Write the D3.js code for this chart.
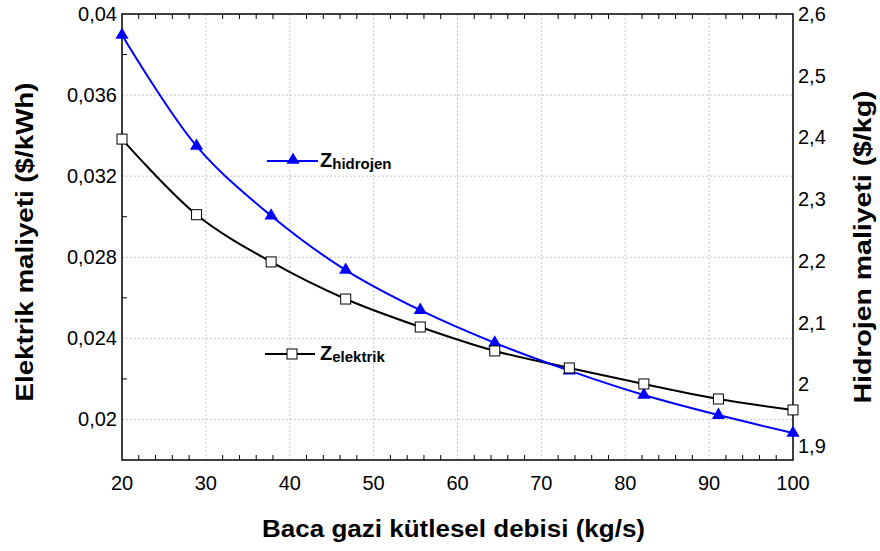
<!DOCTYPE html>
<html><head><meta charset="utf-8">
<script src="https://cdn.jsdelivr.net/npm/d3@7"></script>
<style>body{margin:0;background:#fff;} text{font-family:Arial,"Liberation Sans",sans-serif;}</style>
</head><body>
<svg id="c" width="880" height="551"></svg>
<script>
const xVals = [20, 28.89, 37.78, 46.67, 55.56, 64.44, 73.33, 82.22, 91.11, 100];
const elektrik = [0.03383, 0.0301, 0.02777, 0.02594, 0.02456, 0.02338, 0.02254, 0.02175, 0.02101, 0.02047];
const hidrojen = [2.566, 2.386, 2.273, 2.185, 2.120, 2.067, 2.022, 1.9825, 1.950, 1.921];
const xTicks = [20, 30, 40, 50, 60, 70, 80, 90, 100];
const leftTicks = [0.02, 0.024, 0.028, 0.032, 0.036, 0.04];
const leftTickLabels = ["0,02", "0,024", "0,028", "0,032", "0,036", "0,04"];
const rightTicks = [1.9, 2.0, 2.1, 2.2, 2.3, 2.4, 2.5, 2.6];
const rightTickLabels = ["1,9", "2", "2,1", "2,2", "2,3", "2,4", "2,5", "2,6"];

const L = 122, R = 793, T = 14, B = 460;
const svg = d3.select("#c");
const x = d3.scaleLinear().domain([20, 100]).range([L, R]);
const yL = d3.scaleLinear().domain([0.018, 0.04]).range([B, T]);
const yR = d3.scaleLinear().domain([1.8772, 2.6]).range([B, T]);

// grid
const g = svg.append("g");
xTicks.filter(v => v > 20 && v < 100).forEach(v => {
  g.append("line").attr("x1", x(v)).attr("x2", x(v)).attr("y1", T).attr("y2", B)
   .attr("stroke", "#c8c8c8").attr("stroke-width", 1).attr("stroke-dasharray", "2,2");
});
leftTicks.filter(v => v < 0.04).forEach(v => {
  g.append("line").attr("x1", L).attr("x2", R).attr("y1", yL(v)).attr("y2", yL(v))
   .attr("stroke", "#c8c8c8").attr("stroke-width", 1).attr("stroke-dasharray", "2,2");
});

// minor ticks
const minorX = d3.range(22, 100, 2).filter(v => v % 10 !== 0);
minorX.forEach(v => {
  g.append("line").attr("x1", x(v)).attr("x2", x(v)).attr("y1", B).attr("y2", B - 5).attr("stroke", "#000");
  g.append("line").attr("x1", x(v)).attr("x2", x(v)).attr("y1", T).attr("y2", T + 5).attr("stroke", "#000");
});
[0.022, 0.026, 0.030, 0.034, 0.038].forEach(v => {
  g.append("line").attr("x1", L).attr("x2", L + 5).attr("y1", yL(v)).attr("y2", yL(v)).attr("stroke", "#000");
});

// frame
svg.append("rect").attr("x", L).attr("y", T).attr("width", R - L).attr("height", B - T)
  .attr("fill", "none").attr("stroke", "#000").attr("stroke-width", 1.5);

// tick labels
svg.append("g").selectAll("text").data(xTicks).join("text")
  .attr("x", d => x(d)).attr("y", B + 30).attr("text-anchor", "middle")
  .attr("font-size", 20).text(d => d);
svg.append("g").selectAll("text").data(leftTicks).join("text")
  .attr("x", L - 5).attr("y", d => yL(d)).attr("dy", "0.35em").attr("text-anchor", "end")
  .attr("font-size", 20).text((d, i) => leftTickLabels[i]);
svg.append("g").selectAll("text").data(rightTicks).join("text")
  .attr("x", R + 5).attr("y", d => yR(d)).attr("dy", "0.35em").attr("text-anchor", "start")
  .attr("font-size", 20).text((d, i) => rightTickLabels[i]);

// axis titles
svg.append("text").attr("x", 453.5).attr("y", 537).attr("text-anchor", "middle")
  .attr("font-size", 23).attr("font-weight", "bold")
  .attr("textLength", 383).attr("lengthAdjust", "spacingAndGlyphs")
  .text("Baca gazi kütlesel debisi (kg/s)");
svg.append("text").attr("transform", "translate(33,242) rotate(-90)").attr("text-anchor", "middle")
  .attr("font-size", 24).attr("font-weight", "bold")
  .attr("textLength", 319).attr("lengthAdjust", "spacingAndGlyphs")
  .text("Elektrik maliyeti ($/kWh)");
svg.append("text").attr("transform", "translate(871,247) rotate(-90)").attr("text-anchor", "middle")
  .attr("font-size", 24).attr("font-weight", "bold")
  .attr("textLength", 313).attr("lengthAdjust", "spacingAndGlyphs")
  .text("Hidrojen maliyeti ($/kg)");

// lines
const ptsE = xVals.map((v, i) => [v, elektrik[i]]);
const ptsH = xVals.map((v, i) => [v, hidrojen[i]]);
const lineE = d3.line().x(d => x(d[0])).y(d => yL(d[1])).curve(d3.curveCatmullRom);
const lineH = d3.line().x(d => x(d[0])).y(d => yR(d[1])).curve(d3.curveCatmullRom);
svg.append("path").attr("d", lineE(ptsE)).attr("fill", "none").attr("stroke", "#000").attr("stroke-width", 2);
svg.append("path").attr("d", lineH(ptsH)).attr("fill", "none").attr("stroke", "#0000ff").attr("stroke-width", 2);

const tri = d3.symbol().type(d3.symbolTriangle).size(75);
svg.append("g").selectAll("path").data(ptsH).join("path")
  .attr("transform", d => `translate(${x(d[0])},${yR(d[1])})`).attr("d", tri).attr("fill", "#0000ff");
svg.append("g").selectAll("rect").data(ptsE).join("rect")
  .attr("x", d => x(d[0]) - 5).attr("y", d => yL(d[1]) - 5).attr("width", 10).attr("height", 10)
  .attr("fill", "#fff").attr("stroke", "#000").attr("stroke-width", 1);

// legends
const lg1 = svg.append("g");
lg1.append("line").attr("x1", 267).attr("x2", 318).attr("y1", 161).attr("y2", 161).attr("stroke", "#0000ff").attr("stroke-width", 2);
lg1.append("path").attr("transform", "translate(293,160)").attr("d", tri).attr("fill", "#0000ff");
const t1 = lg1.append("text").attr("x", 320).attr("y", 167).attr("font-weight", "bold");
t1.append("tspan").attr("font-size", 20).text("Z");
t1.append("tspan").attr("font-size", 15).attr("dy", 2).text("hidrojen");

const lg2 = svg.append("g");
lg2.append("line").attr("x1", 265).attr("x2", 315).attr("y1", 354).attr("y2", 354).attr("stroke", "#000").attr("stroke-width", 2);
lg2.append("rect").attr("x", 287).attr("y", 349).attr("width", 10).attr("height", 10).attr("fill", "#fff").attr("stroke", "#000");
const t2 = lg2.append("text").attr("x", 320).attr("y", 360).attr("font-weight", "bold");
t2.append("tspan").attr("font-size", 20).text("Z");
t2.append("tspan").attr("font-size", 15).attr("dy", 2).text("elektrik");
</script>
</body></html>
